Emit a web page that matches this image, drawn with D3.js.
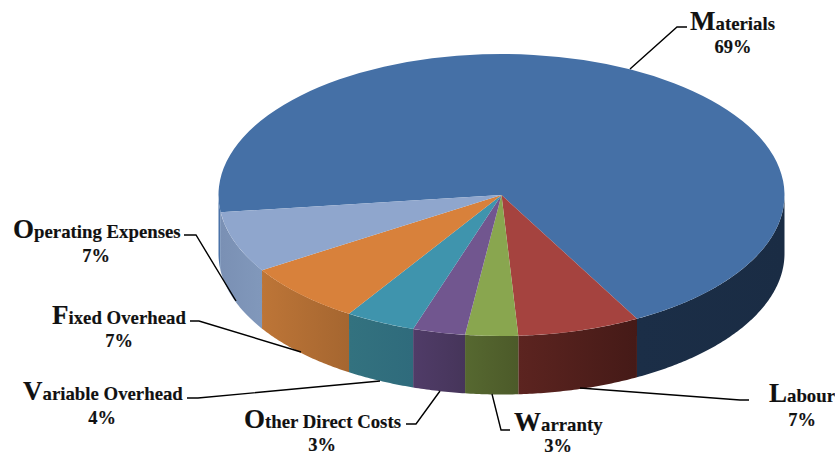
<!DOCTYPE html>
<html><head><meta charset="utf-8">
<script src="https://cdn.jsdelivr.net/npm/d3@7"></script>
<style>html,body{margin:0;padding:0;background:#fff}svg{display:block}
text{font-family:"Liberation Serif",serif;font-weight:bold;fill:#111;stroke:#111;stroke-width:.15}</style></head>
<body><svg id="c" width="835" height="456"></svg>
<script>
const categories=["Materials","Labour","Warranty","Other Direct Costs","Variable Overhead","Fixed Overhead","Operating Expenses"];
const values=[69,7,3,3,4,7,7];
const topColors=["#4570a6","#a5433f","#89a64f","#71568f","#3f94ad","#d8813b","#8fa6cd"];
const wallStart=["#1b2e47","#5c2420","#566830","#503c68","#33727f","#bd7537","#7a90b4"];
const wallEnd=["#1a2c44","#451a17","#4c5a29","#46355a","#2f6b7c","#a56630","#8198bb"];

const W=835,H=456,cx=501.5,cy=195,rx=283,ry=141,depth=58.5;
// label layout: leader points, then text anchor centre & baselines
const labelLayout=[
 {pts:[[630,69],[677,27],[687,27]],x:690,y:30,px:733,py:53},
 {pts:[[580,388],[740,400],[749,400]],x:769,y:402,px:802,py:426},
 {pts:[[492,394],[501,430],[510,430]],x:514,y:431,px:558,py:452},
 {pts:[[440,391],[416,424],[406,424]],x:244,y:428,px:322,py:451},
 {pts:[[380,381],[198,398],[187,398]],x:23,y:400,px:102,py:424},
 {pts:[[301,352],[199,321],[190,321]],x:52,y:324,px:119,py:347},
 {pts:[[236,301],[196,235],[184,235]],x:13,y:238,px:96,py:262}
];
const startDeg=-97;
const svg=d3.select("#c");
const pie=d3.pie().sort(null).value(d=>d)
  .startAngle(startDeg*Math.PI/180).endAngle((startDeg+360)*Math.PI/180);
const arcs=pie(values);

const defs=svg.append("defs");
arcs.forEach((a,i)=>{
  const g=defs.append("linearGradient").attr("id","w"+i).attr("x1",0).attr("x2",1).attr("y1",0).attr("y2",0);
  g.append("stop").attr("offset",0).attr("stop-color",wallStart[i]);
  g.append("stop").attr("offset",1).attr("stop-color",wallEnd[i]);
});

// side walls: only the front half of the rim is visible
const wall=d3.area()
  .x(t=>cx+rx*Math.sin(t))
  .y0(t=>cy-ry*Math.cos(t))
  .y1(t=>cy-ry*Math.cos(t)+depth);
const frontA=Math.PI/2, frontB=3*Math.PI/2;
const gW=svg.append("g");
function sweep(a0,a1){
  const s=[];const n=Math.max(2,Math.ceil((a1-a0)/0.01));
  for(let k=0;k<=n;k++)s.push(a0+(a1-a0)*k/n);
  return s;
}
arcs.forEach((a,i)=>{
  [[a.startAngle,a.endAngle],[a.startAngle+2*Math.PI,a.endAngle+2*Math.PI]].forEach(([s,e])=>{
    const a0=Math.max(s,frontA),a1=Math.min(e,frontB);
    if(a1<=a0)return;
    gW.append("path").attr("d",wall(sweep(a0,a1)))
      .attr("fill",i===0&&a0>Math.PI?"#4a72a8":`url(#w${i})`);
  });
});

// top surface
const arc=d3.arc().innerRadius(0).outerRadius(rx);
const gT=svg.append("g").attr("transform",`translate(${cx},${cy}) scale(1,${ry/rx})`);
gT.selectAll("path").data(arcs).join("path").attr("d",arc).attr("fill",(d,i)=>topColors[i]);

// leader lines
const line=d3.line();
svg.append("g").selectAll("path").data(labelLayout).join("path")
  .attr("d",d=>line(d.pts)).attr("fill","none").attr("stroke","#000").attr("stroke-width",1.4);

// labels
const g=svg.append("g");
categories.forEach((c,i)=>{
  const l=labelLayout[i];
  const t=g.append("text").attr("x",l.x).attr("y",l.y).attr("font-size",18.8);
  t.append("tspan").attr("font-size",27).text(c[0]);
  t.append("tspan").text(c.slice(1));
  g.append("text").attr("x",l.px).attr("y",l.py).attr("text-anchor","middle").attr("font-size",18.5).text(values[i]+"%");
});
</script></body></html>
